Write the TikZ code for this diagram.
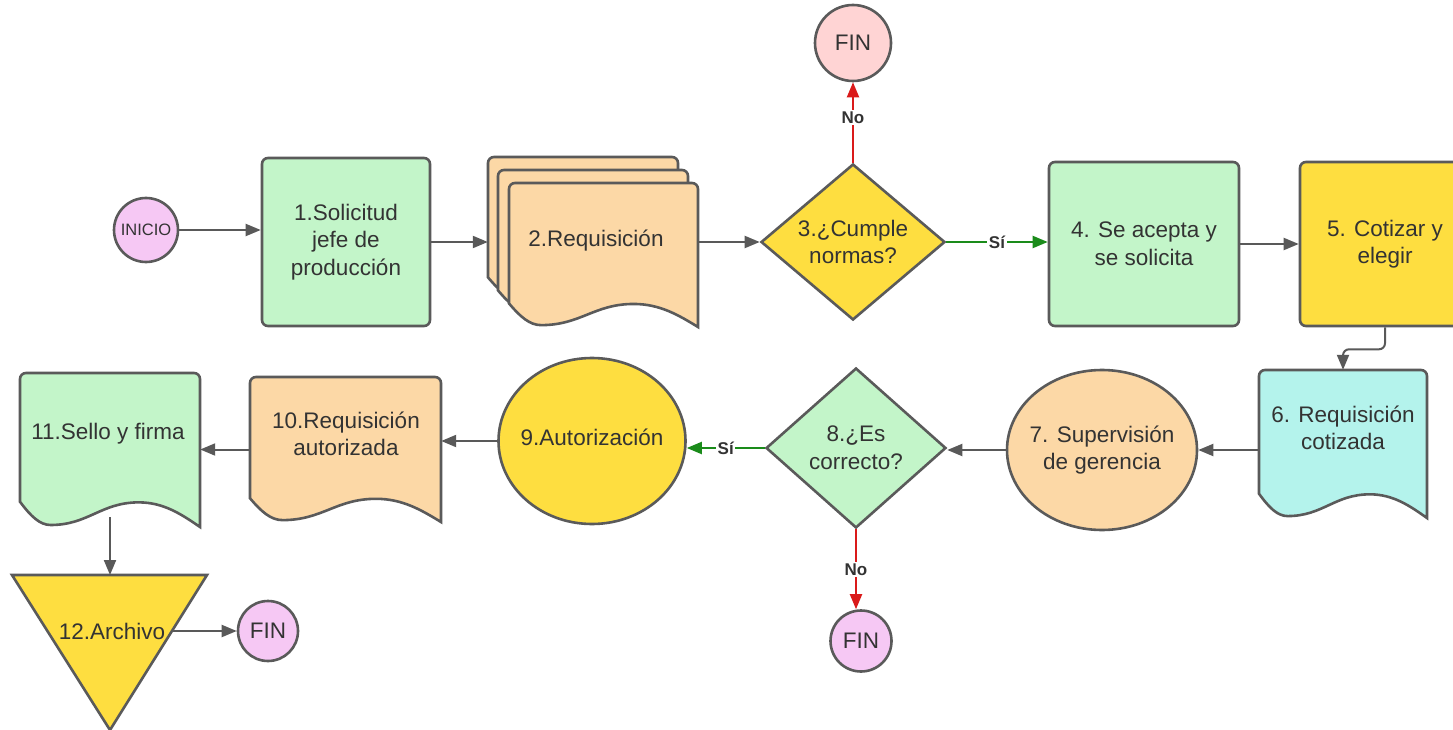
\documentclass[tikz,border=0pt]{standalone}
\usepackage{fontspec}
\setmainfont{Liberation Sans}
\usetikzlibrary{arrows.meta,shapes.geometric,calc}
\definecolor{gfill}{HTML}{C3F5C9}
\definecolor{yfill}{HTML}{FEDE40}
\definecolor{pfill}{HTML}{FCD8A6}
\definecolor{cfill}{HTML}{B4F3EC}
\definecolor{kfill}{HTML}{F6C8F4}
\definecolor{rfill}{HTML}{FFD4D4}
\definecolor{edge}{HTML}{5A5A5A}
\definecolor{conn}{HTML}{595959}
\definecolor{redl}{HTML}{DA1A1A}
\definecolor{grnl}{HTML}{1A8B1A}
\definecolor{txt}{HTML}{333333}
\newcommand\mainf{\fontsize{22.5}{27.5}\selectfont}
\newcommand\lblf{\bfseries\fontsize{17}{20}\selectfont}
\tikzset{
  shp/.style={draw=edge, line width=2.6pt},
  box/.style={shp, rounded corners=6pt, align=center, font=\mainf, text=txt, inner sep=2pt},
  dia/.style={shp, diamond, align=center, font=\mainf, text=txt, inner sep=0pt},
  ell/.style={shp, ellipse, inner sep=0pt},
  lbl/.style={align=center, font=\mainf, text=txt, inner sep=0pt},
  arr/.style={draw=conn, line width=2pt, -{Triangle[length=15pt,width=12pt]}},
  redarr/.style={arr, draw=redl, -{Triangle[length=15pt,width=12pt,fill=redl]}},
  grnarr/.style={arr, draw=grnl, -{Triangle[length=15pt,width=12pt,fill=grnl]}},
  elab/.style={fill=white, font=\lblf, text=txt, inner sep=1.5pt},
}
% document outline: L T R B fill
\newcommand{\docpath}[5]{%
  \pgfmathsetmacro\dW{#3-#1}\pgfmathsetmacro\dH{#4-#2}%
  \path[shp, fill=#5] ({#1},{#2+0.836*\dH}) [rounded corners=6pt] -- (#1,#2) -- (#3,#2) [sharp corners] -- (#3,#4)
    .. controls ({#3-0.1*\dW},{#2+0.92*\dH}) and ({#3-0.2*\dW},{#2+0.84*\dH}) .. ({#1+0.66*\dW},{#2+0.84*\dH})
    .. controls ({#1+0.45*\dW},{#2+0.84*\dH}) and ({#1+0.38*\dW},{#2+0.987*\dH}) .. ({#1+0.17*\dW},{#2+0.987*\dH})
    .. controls ({#1+0.11*\dW},{#2+0.987*\dH}) and ({#1+0.06*\dW},{#2+0.93*\dH}) .. ({#1},{#2+0.836*\dH}) -- cycle;
}
% named frame node for a document: name L T R B
\newcommand{\docframe}[5]{%
  \pgfmathsetmacro\dW{#4-#2}\pgfmathsetmacro\dH{#5-#3}%
  \node[inner sep=0pt, minimum width=\dW pt, minimum height=\dH pt] (#1) at ({(#2+#4)/2},{(#3+#5)/2}) {};
}
\begin{document}
\begin{tikzpicture}[x=1pt,y=-1pt]
\useasboundingbox[fill=white] (0,0) rectangle (1453,730);

% ---------- top row ----------
\node[ell, fill=kfill, minimum width=64pt, minimum height=64pt,
  label={[name=init, font=\fontsize{16.5}{19}\selectfont, text=txt, inner sep=0pt]center:INICIO}] (ini) at (146,230) {};

\node[box, fill=gfill, minimum width=168pt, minimum height=168pt] (n1) at (346,242) {1.Solicitud\\jefe de\\producción};

% stacked documents (2)
\docpath{488}{157}{678}{301}{pfill}
\docframe{d2c}{488}{157}{678}{301}
\docpath{498}{170}{688}{314}{pfill}
\docframe{d2b}{498}{170}{688}{314}
\docpath{509}{183}{698}{327}{pfill}
\docframe{d2}{509}{183}{698}{327}
\node[lbl] (d2t) at (596,241) {2.Requisición};

\node[dia, fill=yfill, aspect=1.2, minimum width=184pt, minimum height=156pt] (n3) at (853,242) {3.¿Cumple\\normas?};

\node[shp, circle, fill=rfill, minimum size=76pt, inner sep=0pt, font=\mainf, text=txt] (fin1) at (853,43) {FIN};

\node[box, fill=gfill, minimum width=190pt, minimum height=164pt] (n4) at (1144,244) {4. Se acepta y\\se solicita};
\node[box, fill=yfill, minimum width=170pt, minimum height=164pt] (n5) at (1385,244) {5. Cotizar y\\elegir};

% ---------- middle row ----------
\docpath{1259}{370}{1427}{518}{cfill}
\docframe{d6}{1259}{370}{1427}{518}
\node[lbl] (d6t) at (1343,428) {6. Requisición\\cotizada};

\node[ell, fill=pfill, minimum width=190pt, minimum height=160pt,
  label={[name=n7t, lbl]center:7. Supervisión\\de gerencia}] (n7) at (1102,450) {};

\node[dia, fill=gfill, aspect=1.125, minimum width=180pt, minimum height=160pt] (n8) at (856,448) {8.¿Es\\correcto?};

\node[shp, circle, fill=kfill, minimum size=61pt, inner sep=0pt, font=\mainf, text=txt] (fin2) at (861,641) {FIN};

\node[ell, fill=yfill, minimum width=187pt, minimum height=166pt,
  label={[name=n9t, lbl, yshift=4pt]center:9.Autorización}] (n9) at (592,441) {};

\docpath{250}{377}{441}{522}{pfill}
\docframe{d10}{250}{377}{441}{522}
\node[lbl] (d10t) at (346,434) {10.Requisición\\autorizada};

\docpath{20}{373}{200}{527}{gfill}
\docframe{d11}{20}{373}{200}{527}
\node[lbl] (d11t) at (108,434) {11.Sello y firma};

% ---------- bottom ----------
\path[shp, fill=yfill] (12,575) -- (207,575) -- (110,730) -- cycle;
\coordinate (t12top) at (110,575);
\node[lbl, inner xsep=8pt] (n12) at (112,631) {12.Archivo};

\node[shp, circle, fill=kfill, minimum size=60pt, inner sep=0pt, font=\mainf, text=txt] (fin3) at (268,631) {FIN};

% ---------- connectors ----------
\draw[arr] (ini.east) -- (ini.east -| n1.west);
\draw[arr] (n1.east) -- (n1.east -| d2c.west);
\draw[arr] (d2.east |- n3.west) -- (n3.west);
\draw[redarr] (n3.north) -- node[elab, pos=0.56] (no1) {No} (fin1.south);
\draw[grnarr] (n3.east) -- node[elab, pos=0.5] (si1) {Sí} (n3.east -| n4.west);
\draw[arr] (n4.east) -- (n5.west);
\draw[arr, rounded corners=6pt] (n5.south) -- ++(0,22) -| (d6.north);
\draw[arr] (d6.west |- n7.east) -- (n7.east);
\draw[arr] (n7.west) -- (n7.west -| n8.east);
\draw[grnarr] (n8.west) -- node[elab, pos=0.5] (si2) {Sí} (n8.west -| n9.east);
\draw[redarr] (n8.south) -- node[elab, pos=0.5] (no2) {No} (n8.south |- fin2.north);
\draw[arr] (n9.west) -- (n9.west -| d10.east);
\draw[arr] (d10.west) -- (d10.west -| d11.east);
\draw[arr] ([yshift=10pt]d11.south) -- (t12top);
\draw[arr] (n12.east) -- (n12.east -| fin3.west);
\end{tikzpicture}
\end{document}
